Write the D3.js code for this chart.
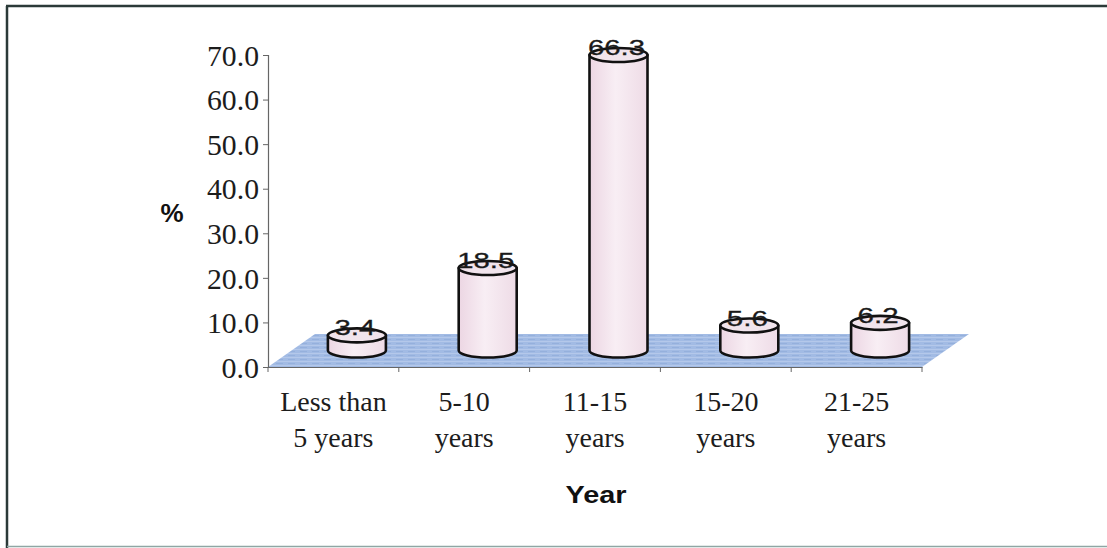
<!DOCTYPE html>
<html>
<head>
<meta charset="utf-8">
<script src="https://cdn.jsdelivr.net/npm/d3@7"></script>
<style>
  html, body { margin: 0; padding: 0; background: #fff; }
  svg { display: block; }
</style>
</head>
<body>
<svg id="chart" width="1107" height="548"></svg>
<script>
// Share of respondents by length of service
const categories = [["Less than", "5 years"], ["5-10", "years"], ["11-15", "years"], ["15-20", "years"], ["21-25", "years"]];
const values = [3.4, 18.5, 66.3, 5.6, 6.2];
const yTicks = [0, 10, 20, 30, 40, 50, 60, 70];

const svg = d3.select("#chart");
const W = 1107, H = 548;

// frame around the chart area
svg.append("rect").attr("x", 0).attr("y", 0).attr("width", W).attr("height", H).attr("fill", "#fff");
svg.append("line").attr("x1", 6).attr("x2", W).attr("y1", 6).attr("y2", 6)
  .attr("stroke", "#2b3a38").attr("stroke-width", 2.5);
svg.append("line").attr("x1", 7).attr("x2", 7).attr("y1", 6).attr("y2", H)
  .attr("stroke", "#2b3a38").attr("stroke-width", 2.5);
svg.append("line").attr("x1", 7).attr("x2", W).attr("y1", 546.5).attr("y2", 546.5)
  .attr("stroke", "#8fa6a4").attr("stroke-width", 1.5);

// plot geometry: front edge of the floor and the depth offset
const left = 268, right = 922, base = 367;
const depthX = 47, depthY = -33;

const x = d3.scaleBand().domain(d3.range(categories.length)).range([left, right]).padding(0);
const y = d3.scaleLinear().domain([0, 70]).range([base, 55]);

// floor
const defs = svg.append("defs");
const pat = defs.append("pattern").attr("id", "floorTex").attr("patternUnits", "userSpaceOnUse")
  .attr("width", 12).attr("height", 4);
pat.append("rect").attr("width", 12).attr("height", 4).attr("fill", "#a2bbe4");
pat.append("rect").attr("y", 1).attr("width", 12).attr("height", 1).attr("fill", "#b4c8ea");
pat.append("rect").attr("y", 3).attr("width", 7).attr("height", 1).attr("fill", "#95b0dc");

svg.append("path")
  .attr("d", `M${left},${base} L${right},${base} L${right + depthX},${base + depthY} L${left + depthX},${base + depthY} Z`)
  .attr("fill", "url(#floorTex)");

// y axis
const yAxis = d3.axisLeft(y).tickValues(yTicks).tickFormat(d3.format(".1f")).tickSize(5).tickPadding(4);
const gy = svg.append("g").attr("transform", `translate(${left},0)`).call(yAxis);
gy.select(".domain").attr("stroke", "#666").attr("stroke-width", 1.2);
gy.selectAll(".tick line").attr("stroke", "#666");
gy.selectAll(".tick text")
  .attr("font-family", "'Liberation Serif', 'Times New Roman', serif")
  .attr("font-size", 30).attr("fill", "#1c1c1c").attr("dy", "0.34em")
  .filter(d => d >= 10)
  .attr("textLength", 52).attr("lengthAdjust", "spacingAndGlyphs");

// x axis
const xAxis = d3.axisBottom(x).tickValues([]).tickSizeOuter(0);
const gx = svg.append("g").attr("transform", `translate(0,${base})`).call(xAxis);
gx.select(".domain").attr("stroke", "#666").attr("stroke-width", 1.2);
gx.selectAll(".sep").data(d3.range(categories.length + 1)).join("line")
  .attr("x1", i => left + i * x.bandwidth()).attr("x2", i => left + i * x.bandwidth())
  .attr("y1", 0).attr("y2", 5).attr("stroke", "#666");

// category labels
const catLabels = svg.append("g");
categories.forEach((lines, i) => {
  const t = catLabels.append("text")
    .attr("x", x(i) + x.bandwidth() / 2).attr("y", 411)
    .attr("text-anchor", "middle")
    .attr("font-family", "'Liberation Serif', 'Times New Roman', serif")
    .attr("font-size", 28).attr("fill", "#1c1c1c");
  lines.forEach((s, j) => {
    t.append("tspan").attr("x", x(i) + x.bandwidth() / 2).attr("dy", j === 0 ? 0 : 36).text(s);
  });
});

// axis titles
svg.append("text").attr("x", 172).attr("y", 222).attr("text-anchor", "middle")
  .attr("font-family", "'Liberation Sans', Arial, sans-serif").attr("font-weight", "bold")
  .attr("font-size", 26).attr("fill", "#111").text("%");
svg.append("text").attr("x", 596).attr("y", 503).attr("text-anchor", "middle")
  .attr("font-family", "'Liberation Sans', Arial, sans-serif").attr("font-weight", "bold")
  .attr("font-size", 23).attr("fill", "#111")
  .attr("textLength", 61).attr("lengthAdjust", "spacingAndGlyphs").text("Year");

// cylinders, standing at mid-depth of the floor
const rx = 29, ry = 7;
const grad = defs.append("linearGradient").attr("id", "cyl").attr("x1", 0).attr("x2", 1);
grad.append("stop").attr("offset", "0%").attr("stop-color", "#ecd6e3");
grad.append("stop").attr("offset", "45%").attr("stop-color", "#f8eef4");
grad.append("stop").attr("offset", "100%").attr("stop-color", "#eedbe6");

const floorMid = base + depthY / 2;
const bars = svg.append("g").selectAll("g").data(values).join("g");
bars.each(function (v, i) {
  const g = d3.select(this);
  const cx = x(i) + x.bandwidth() / 2 + depthX / 2;
  const h = base - y(v);
  const yb = floorMid, yt = floorMid - h;
  g.append("path")
    .attr("d", `M${cx - rx},${yt} L${cx - rx},${yb} A${rx},${ry} 0 0 0 ${cx + rx},${yb} L${cx + rx},${yt} Z`)
    .attr("fill", "url(#cyl)").attr("stroke", "#111").attr("stroke-width", 2.6).attr("stroke-linejoin", "round");
  g.append("ellipse").attr("cx", cx).attr("cy", yt).attr("rx", rx).attr("ry", ry)
    .attr("fill", "#f1e4ec").attr("stroke", "#111").attr("stroke-width", 2.6);
  const label = d3.format(".1f")(v);
  g.append("text").attr("x", cx - 2).attr("y", yt).attr("text-anchor", "middle")
    .attr("font-family", "'Liberation Sans', Arial, sans-serif")
    .attr("font-size", 22).attr("fill", "#1a1a1a")
    .attr("stroke", "#1a1a1a").attr("stroke-width", 0.3)
    .attr("textLength", label.length === 4 ? 57 : 41).attr("lengthAdjust", "spacingAndGlyphs")
    .text(label);
});
</script>
</body>
</html>
